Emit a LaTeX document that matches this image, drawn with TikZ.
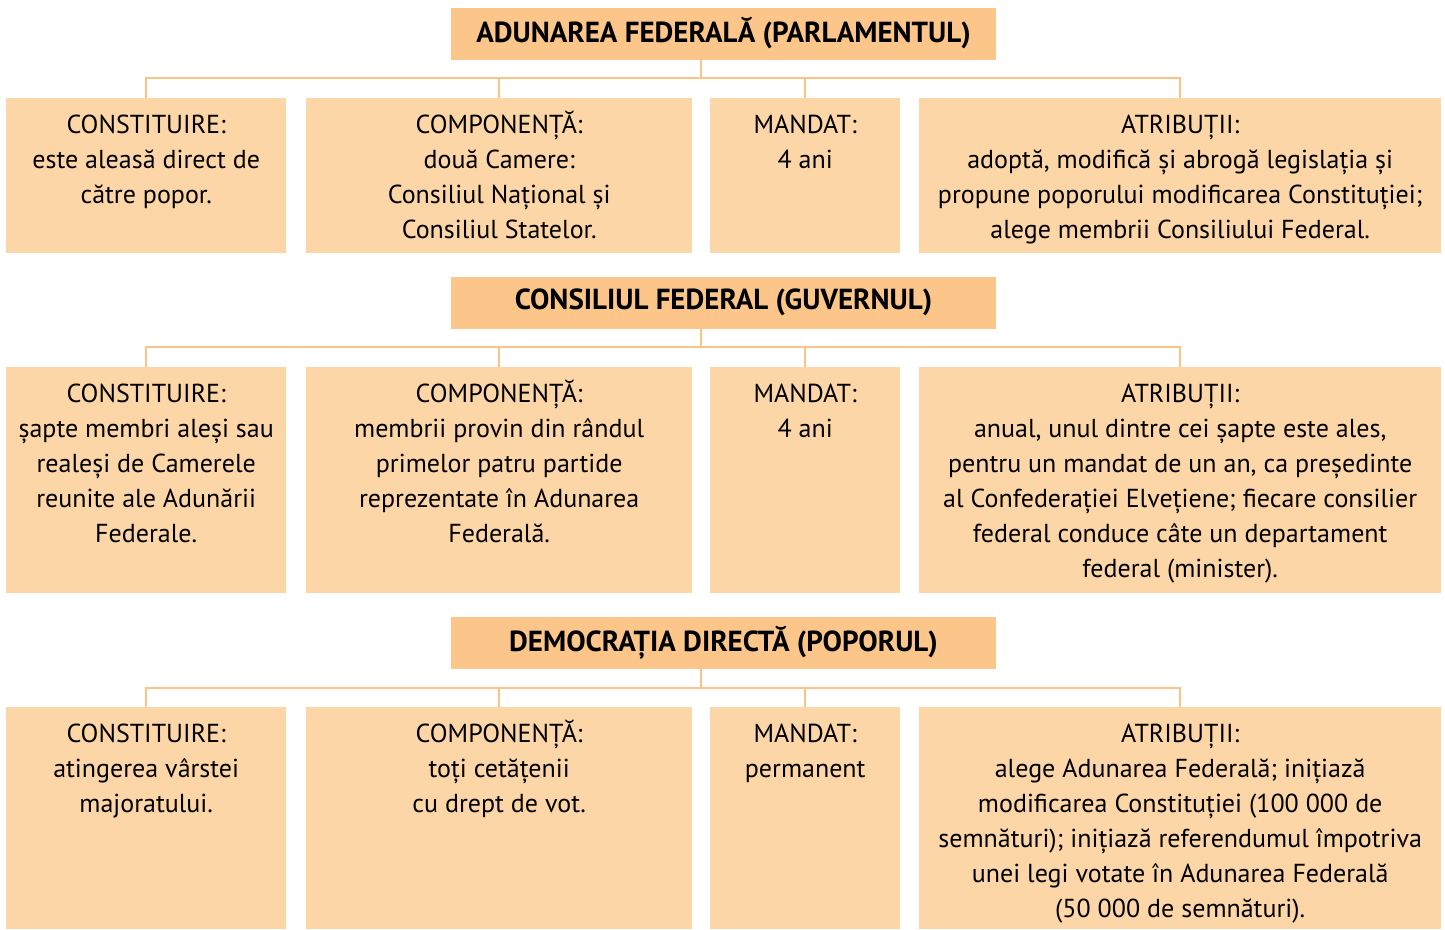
\documentclass[tikz,border=0pt]{standalone}
\usepackage{fontspec}
\setmainfont{PT Sans}
\definecolor{hdrfill}{RGB}{252,198,138}
\definecolor{boxfill}{RGB}{253,214,167}
\definecolor{linecol}{RGB}{250,196,136}
\newcommand{\cellbox}[3]{\parbox[t][#2pt][t]{#1pt}{\lineskiplimit=-100pt\centering\prevdepth=0pt #3\par}}
\tikzset{
  hdrbox/.style={fill=hdrfill, inner sep=0pt, minimum width=545pt, minimum height=52pt, font=\fontsize{29}{30}\selectfont\bfseries},
  cellst/.style={fill=boxfill, inner sep=0pt, anchor=north west, font=\fontsize{26}{35}\selectfont},
  conn/.style={draw=linecol, line width=2pt}
}
\begin{document}
\begin{tikzpicture}[x=1pt,y=-1pt]
\useasboundingbox (0,0) rectangle (1445,929);
% Row 1
\node[hdrbox] (h1) at (723.5,33.5) {ADUNAREA FEDERALĂ (PARLAMENTUL)};
\node[cellst] (a1) at (6,98) {\cellbox{280}{155}{CONSTITUIRE:\\este aleasă direct de\\către popor.}};
\node[cellst] (a2) at (306,98) {\cellbox{386}{155}{COMPONENȚĂ:\\două Camere:\\Consiliul Național și\\Consiliul Statelor.}};
\node[cellst] (a3) at (710,98) {\cellbox{190}{155}{MANDAT:\\4 ani}};
\node[cellst] (a4) at (919,98) {\cellbox{522}{155}{ATRIBUȚII:\\adoptă, modifică și abrogă legislația și\\propune poporului modificarea Constituției;\\alege membrii Consiliului Federal.}};
\coordinate (j1) at (701,78);
\draw[conn] (h1.south -| j1) -- (j1);
\draw[conn] (a1.north) |- (j1) -| (a4.north);
\draw[conn] (a2.north) -- (a2.north |- j1);
\draw[conn] (a3.north) -- (a3.north |- j1);
% Row 2
\node[hdrbox] (h2) at (723.5,302.5) {CONSILIUL FEDERAL (GUVERNUL)};
\node[cellst] (b1) at (6,367) {\cellbox{280}{226}{CONSTITUIRE:\\șapte membri aleși sau\\realeși de Camerele\\reunite ale Adunării\\Federale.}};
\node[cellst] (b2) at (306,367) {\cellbox{386}{226}{COMPONENȚĂ:\\membrii provin din rândul\\primelor patru partide\\reprezentate în Adunarea\\Federală.}};
\node[cellst] (b3) at (710,367) {\cellbox{190}{226}{MANDAT:\\4 ani}};
\node[cellst] (b4) at (919,367) {\cellbox{522}{226}{ATRIBUȚII:\\anual, unul dintre cei șapte este ales,\\pentru un mandat de un an, ca președinte\\al Confederației Elvețiene; fiecare consilier\\federal conduce câte un departament\\federal (minister).}};
\coordinate (j2) at (701,347);
\draw[conn] (h2.south -| j2) -- (j2);
\draw[conn] (b1.north) |- (j2) -| (b4.north);
\draw[conn] (b2.north) -- (b2.north |- j2);
\draw[conn] (b3.north) -- (b3.north |- j2);
% Row 3
\node[hdrbox] (h3) at (723.5,643) {DEMOCRAȚIA DIRECTĂ (POPORUL)};
\node[cellst] (c1) at (6,707) {\cellbox{280}{222}{CONSTITUIRE:\\atingerea vârstei\\majoratului.}};
\node[cellst] (c2) at (306,707) {\cellbox{386}{222}{COMPONENȚĂ:\\toți cetățenii\\cu drept de vot.}};
\node[cellst] (c3) at (710,707) {\cellbox{190}{222}{MANDAT:\\permanent}};
\node[cellst] (c4) at (919,707) {\cellbox{522}{222}{ATRIBUȚII:\\alege Adunarea Federală; inițiază\\modificarea Constituției (100 000 de\\semnături); inițiază referendumul împotriva\\unei legi votate în Adunarea Federală\\(50 000 de semnături).}};
\coordinate (j3) at (701,688);
\draw[conn] (h3.south -| j3) -- (j3);
\draw[conn] (c1.north) |- (j3) -| (c4.north);
\draw[conn] (c2.north) -- (c2.north |- j3);
\draw[conn] (c3.north) -- (c3.north |- j3);
\end{tikzpicture}
\end{document}
